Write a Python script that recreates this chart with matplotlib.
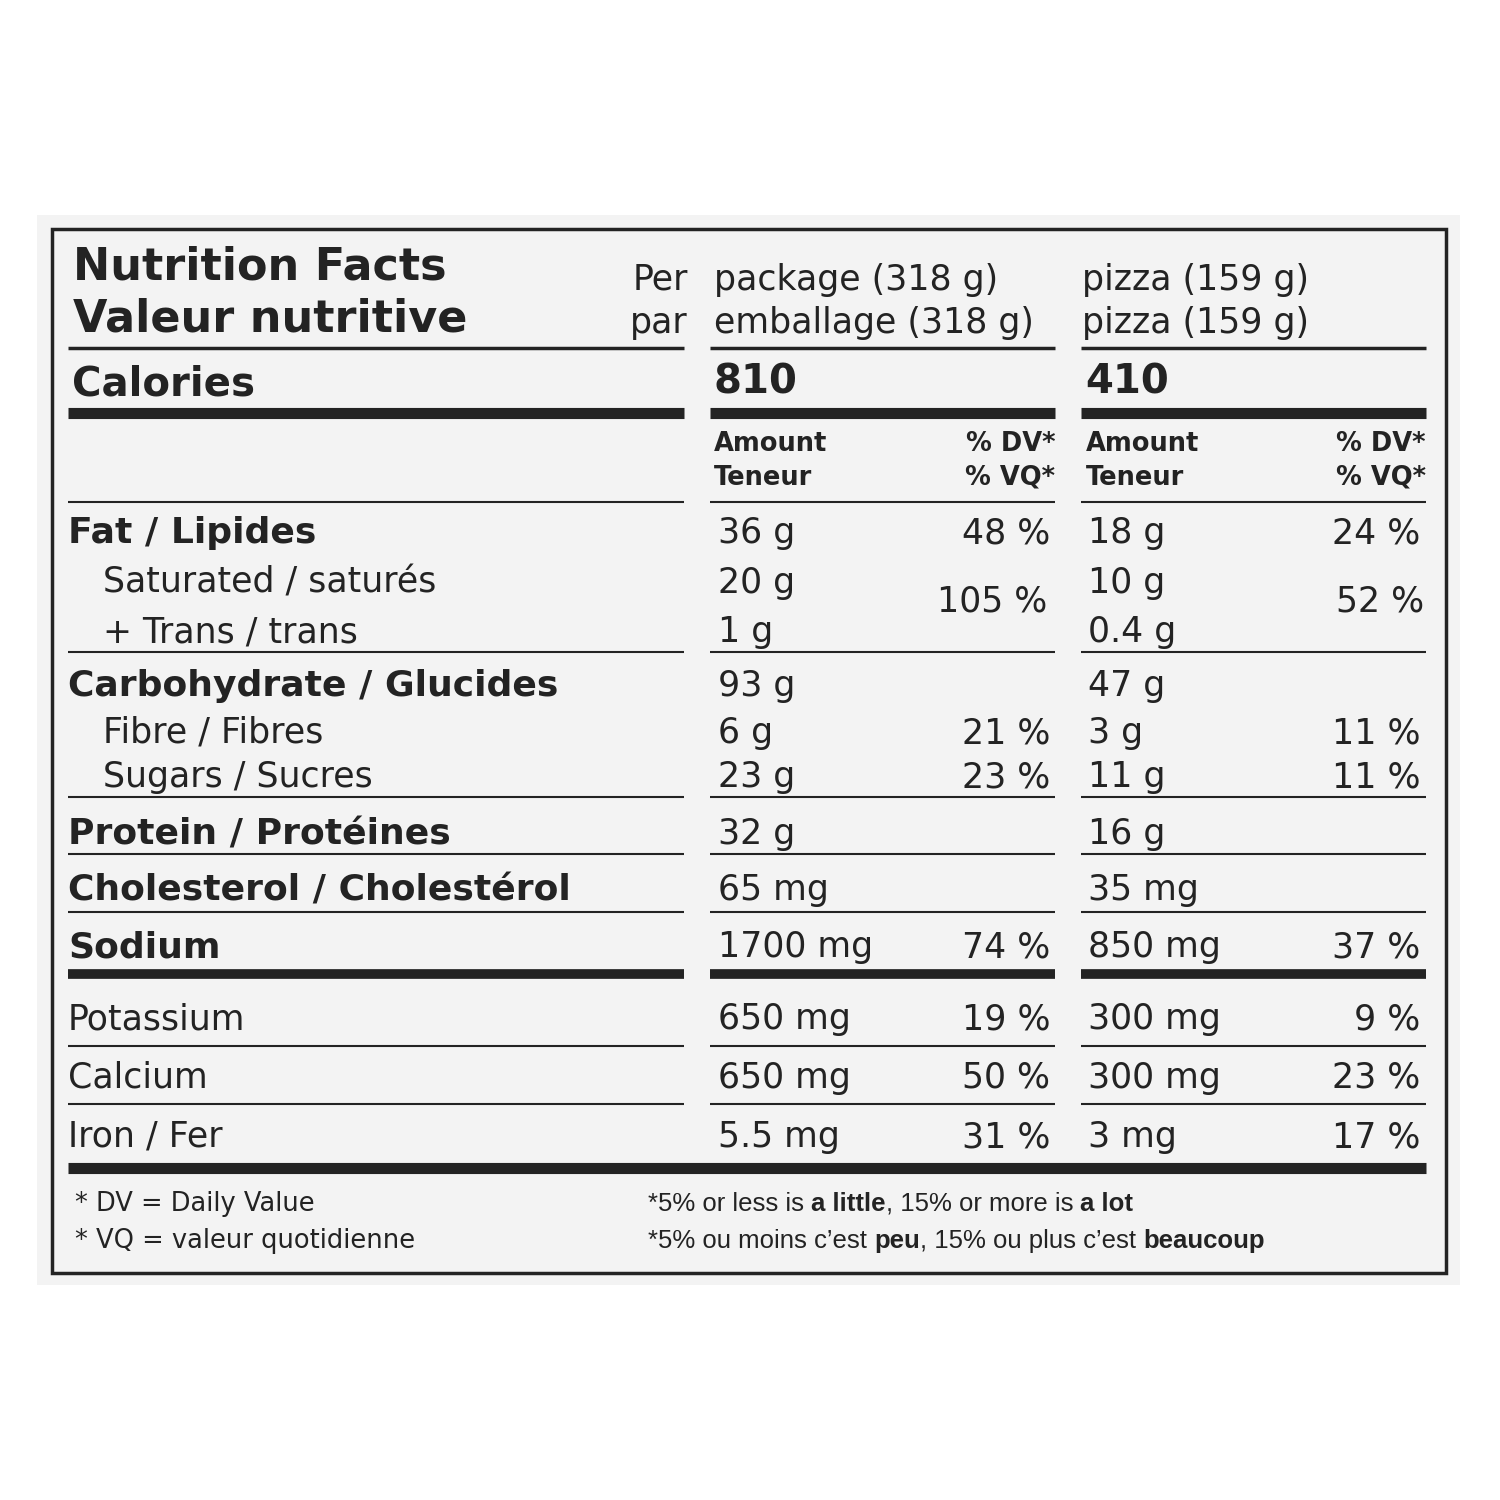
import matplotlib
matplotlib.use("Agg")
import matplotlib.pyplot as plt
from matplotlib.patches import Rectangle

INK = "#232323"
REG = "DejaVu Sans"
BOLD_FAM = "DejaVu Sans"

# serving info
col_heads_en = ["package (318 g)", "pizza (159 g)"]
col_heads_fr = ["emballage (318 g)", "pizza (159 g)"]
calories = ["810", "410"]

# nutrient rows
labels = ["Fat / Lipides", "Saturated / saturés", "+ Trans / trans",
          "Carbohydrate / Glucides", "Fibre / Fibres", "Sugars / Sucres",
          "Protein / Protéines", "Cholesterol / Cholestérol", "Sodium",
          "Potassium", "Calcium", "Iron / Fer"]
is_bold = [1, 0, 0, 1, 0, 0, 1, 1, 1, 0, 0, 0]
indent = [0, 1, 1, 0, 1, 1, 0, 0, 0, 0, 0, 0]
row_y = [530, 580, 629, 683, 730, 774, 831, 887, 944, 1016, 1075, 1134]
amt_pkg = ["36 g", "20 g", "1 g", "93 g", "6 g", "23 g", "32 g", "65 mg",
           "1700 mg", "650 mg", "650 mg", "5.5 mg"]
dv_pkg = ["48 %", "", "", "", "21 %", "23 %", "", "", "74 %", "19 %", "50 %", "31 %"]
amt_pz = ["18 g", "10 g", "0.4 g", "47 g", "3 g", "11 g", "16 g", "35 mg",
          "850 mg", "300 mg", "300 mg", "3 mg"]
dv_pz = ["24 %", "", "", "", "11 %", "11 %", "", "", "37 %", "9 %", "23 %", "17 %"]
sat_trans_dv = ["105 %", "52 %"]

fig = plt.figure(figsize=(15, 15), dpi=100)
ax = fig.add_axes([0, 0, 1, 1])
ax.set_xlim(0, 1500)
ax.set_ylim(1500, 0)
ax.axis("off")
fig.patch.set_facecolor("white")

ax.add_patch(Rectangle((37, 215), 1423, 1070, facecolor="#f3f3f3", edgecolor="none"))
ax.add_patch(Rectangle((52, 229), 1394, 1044, facecolor="none", edgecolor=INK, lw=2.5))

segs = [(68, 684), (710, 1055), (1081, 1426)]


def hline(y, lw, spans=segs):
    for a, b in spans:
        ax.plot([a, b], [y, y], color=INK, lw=lw, solid_capstyle="butt")


hline(348, 2.5)
hline(413, 8)
hline(502, 1.5)
for y in [652, 797, 854, 912]:
    hline(y, 1.5)
hline(974, 7)
hline(1046, 1.5)
hline(1104, 1.5)
hline(1168, 8, [(68, 1426)])


def t(x, y, s, size, bold=False, ha="left", fam=None):
    ax.text(x, y + 3, s, fontsize=size, fontweight="bold" if bold else "normal",
            family=fam or (BOLD_FAM if bold else REG), color=INK, ha=ha, va="center")


t(73, 264, "Nutrition Facts", 32, True)
t(73, 316, "Valeur nutritive", 32, True)
t(688, 277, "Per", 25, ha="right")
t(688, 320, "par", 25, ha="right")
for x, en, fr in zip([714, 1082], col_heads_en, col_heads_fr):
    t(x, 277, en, 25)
    t(x, 320, fr, 25)

t(72, 382, "Calories", 29, True)
for x, c in zip([714, 1085], calories):
    t(x, 380, c, 29, True)

for xl, xr in [(714, 1055), (1086, 1426)]:
    t(xl, 441, "Amount", 18.5, True)
    t(xl, 475, "Teneur", 18.5, True)
    t(xr, 441, "% DV*", 18.5, True, ha="right")
    t(xr, 475, "% VQ*", 18.5, True, ha="right")

for i, lab in enumerate(labels):
    y = row_y[i]
    t(68 + 35 * indent[i], y, lab, 26 if is_bold[i] else 25, bool(is_bold[i]))
    t(718, y, amt_pkg[i], 25)
    t(1088, y, amt_pz[i], 25)
    if dv_pkg[i]:
        t(1050, y, dv_pkg[i], 25, ha="right")
    if dv_pz[i]:
        t(1420, y, dv_pz[i], 25, ha="right")
t(1047, 598, sat_trans_dv[0], 25, ha="right")
t(1424, 598, sat_trans_dv[1], 25, ha="right")

t(75, 1201, "* DV = Daily Value", 18.5)
t(75, 1238, "* VQ = valeur quotidienne", 18.5)

fig.canvas.draw()
renderer = fig.canvas.get_renderer()
NARROW = ["Liberation Sans Narrow", "Liberation Sans"]


def runs(x, y, parts):
    inv = ax.transData.inverted()
    for s, b in parts:
        tx = ax.text(x, y + 3, s, fontsize=18.5, fontweight="bold" if b else "normal",
                     family=NARROW, color=INK, ha="left", va="center")
        bb = tx.get_window_extent(renderer)
        x = inv.transform((bb.x1, bb.y0))[0]


runs(648, 1201, [("*5% or less is ", False), ("a little", True),
                 (", 15% or more is ", False), ("a lot", True)])
runs(648, 1238, [("*5% ou moins c\u2019est ", False), ("peu", True),
                 (", 15% ou plus c\u2019est ", False), ("beaucoup", True)])

fig.savefig("out.png", dpi=100, facecolor="white")
